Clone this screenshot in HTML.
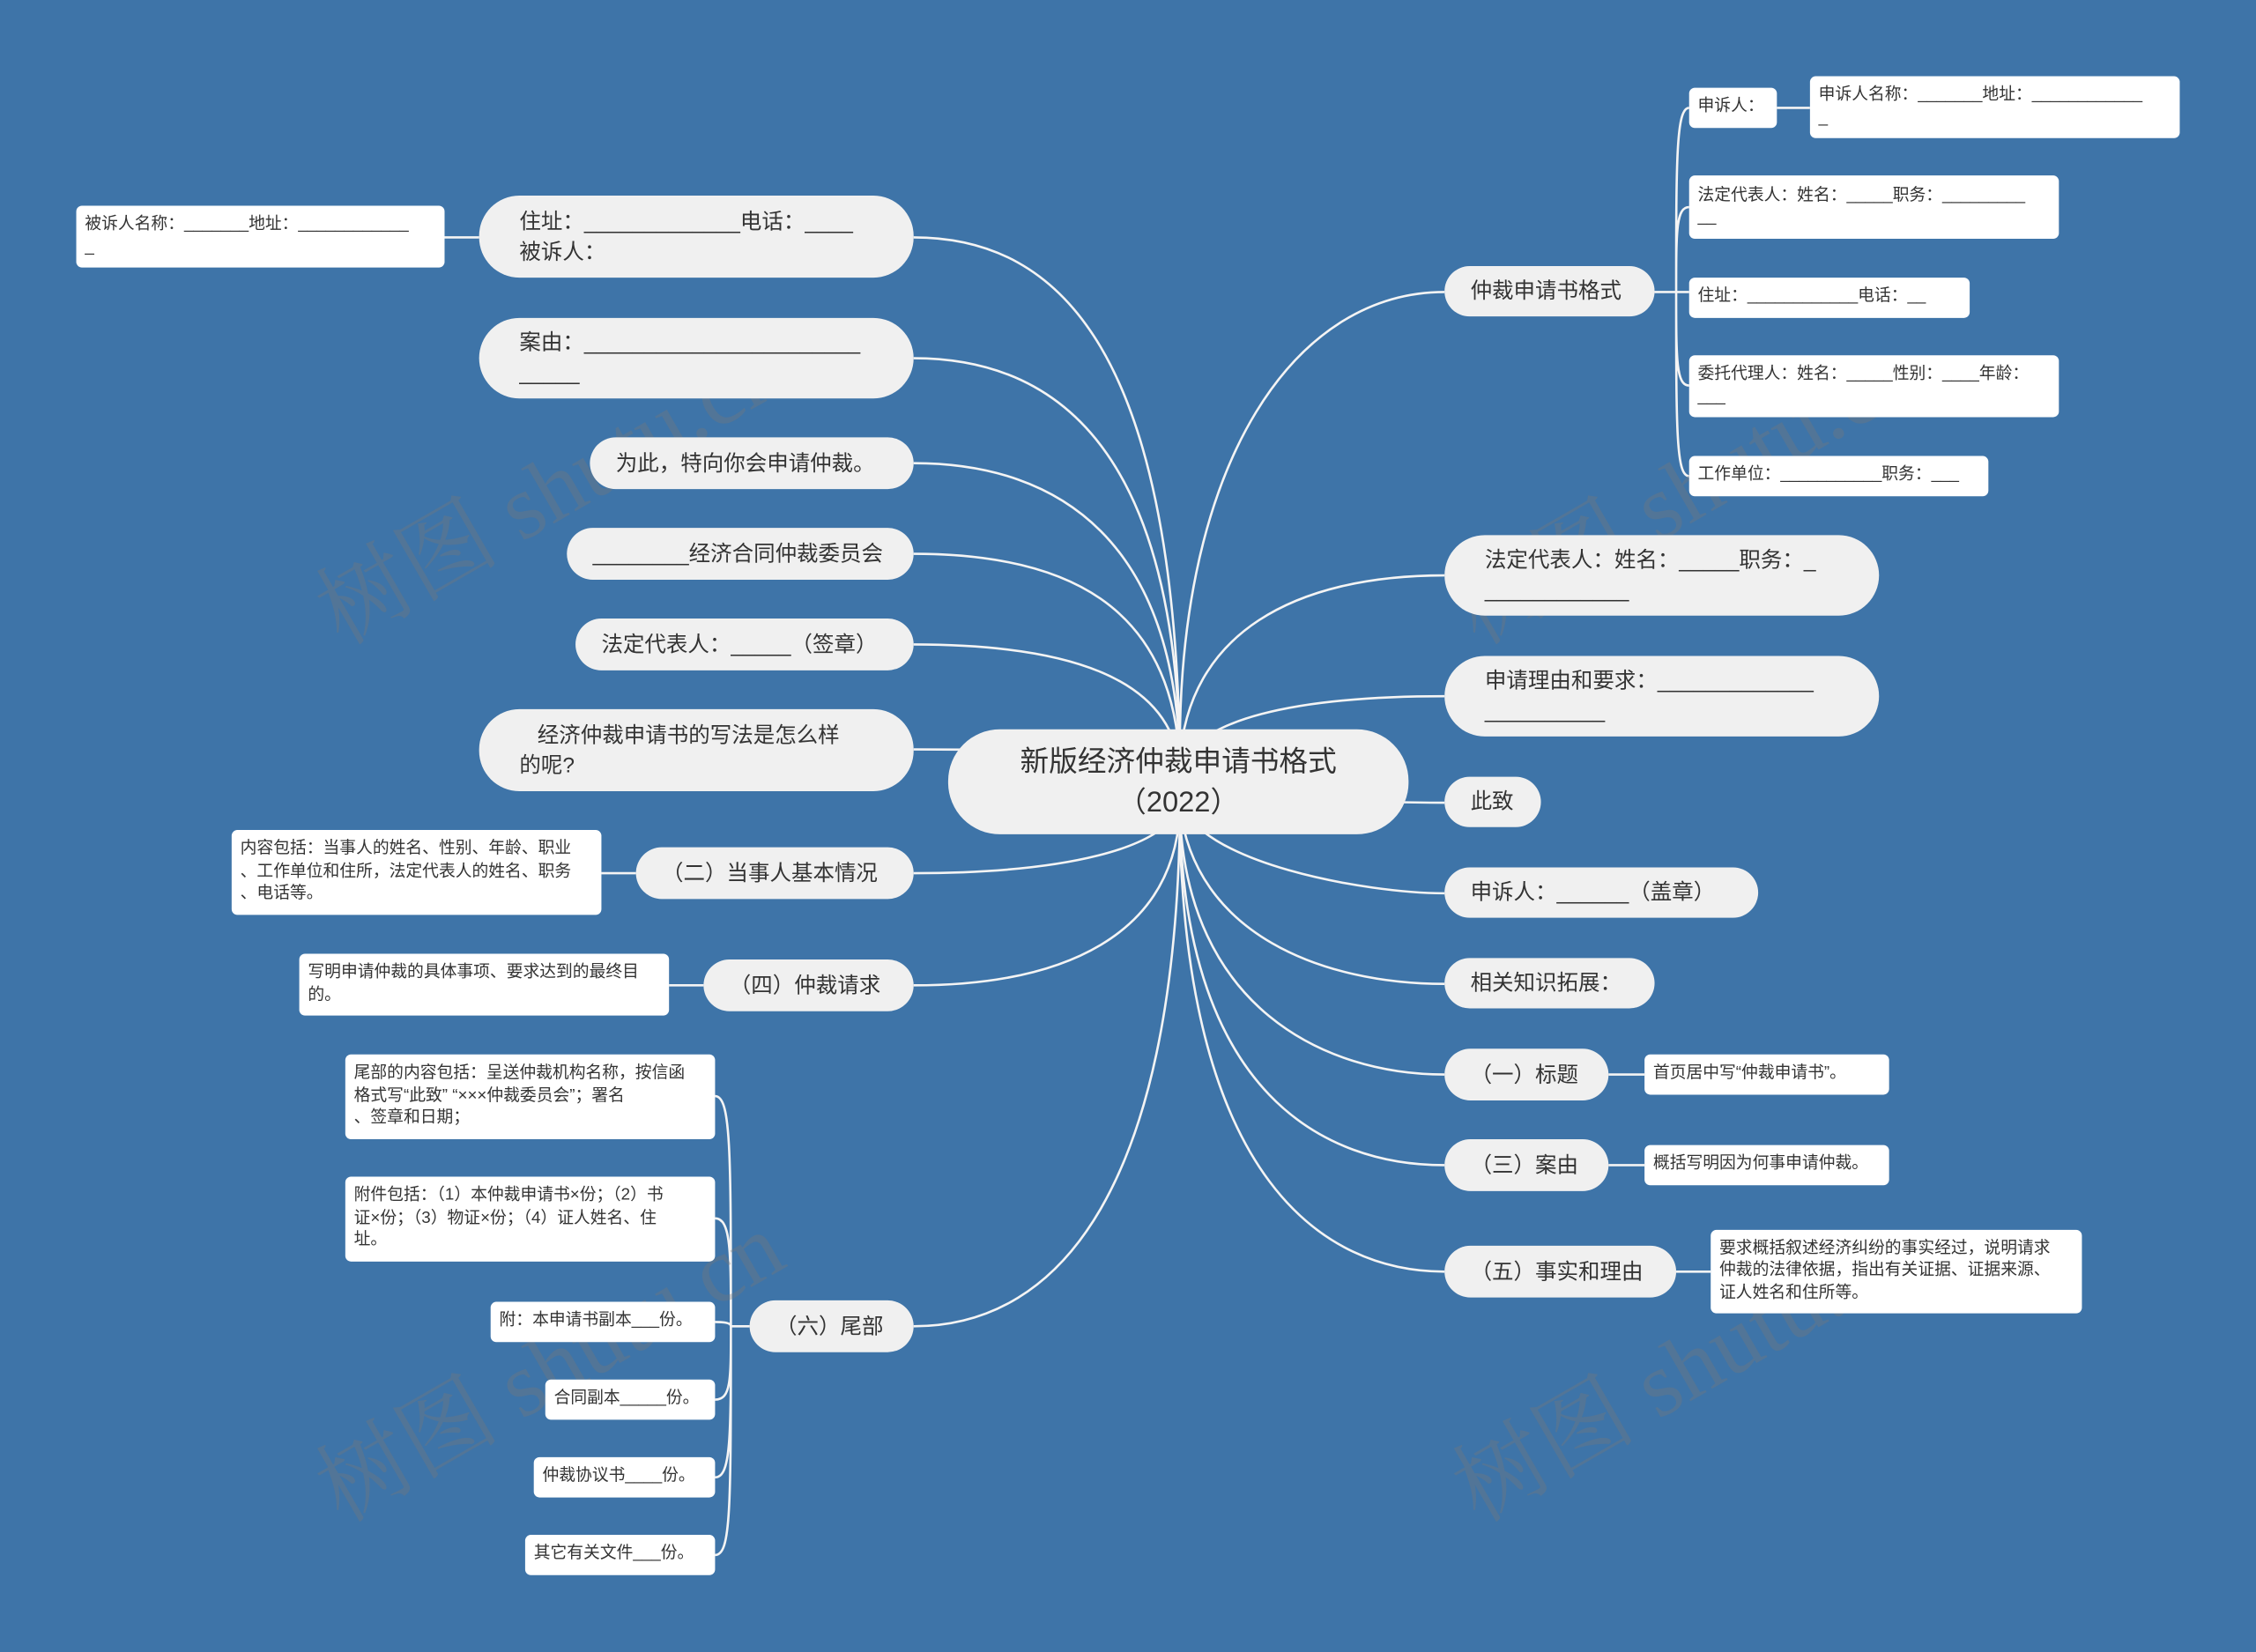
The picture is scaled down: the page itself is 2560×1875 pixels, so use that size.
<!DOCTYPE html>
<html><head><meta charset="utf-8"><style>
html,body{margin:0;padding:0;background:#3e74a8;width:2560px;height:1875px;overflow:hidden}
#s{position:absolute;left:0;top:0;width:1568px;height:1148px;transform:scale(1.63265);transform-origin:0 0;font-family:"Liberation Sans","Noto Sans CJK SC",sans-serif}
.n{position:absolute;background:#f0f0f0;border-radius:20px;color:#333;font-size:15px;display:flex;align-items:center;box-sizing:border-box;padding:0 18px;line-height:21px;white-space:nowrap}
.l{position:absolute;background:#fff;border-radius:4px;color:#333;font-size:11.5px;display:flex;align-items:center;box-sizing:border-box;padding:0 6px;line-height:15.5px;white-space:nowrap}
.c{justify-content:center;text-align:center}
.wm{position:absolute;color:rgba(120,120,120,0.35);font-family:"Liberation Serif","Noto Serif CJK SC",serif;font-size:64px;transform:rotate(-30deg);white-space:nowrap}
svg{position:absolute;left:0;top:0}
</style></head><body><div id="s">
<svg width="1568" height="1148" fill="none" stroke="#f4f4f4" stroke-width="1.6">
<g>
<path d="M820 520 C820 320 900 203 1004 203"/>
<path d="M820 530 C825 440 900 400 1004 400"/>
<path d="M820 535 C830 500 900 484 1004 484"/>
<path d="M820 545 C840 555 960 558 1004 558"/>
<path d="M820 555 C830 600 950 621 1004 621"/>
<path d="M820 560 C830 650 920 684 1004 684"/>
<path d="M820 565 C825 700 920 747 1004 747"/>
<path d="M820 570 C825 760 920 810 1004 810"/>
<path d="M820 575 C825 820 920 884 1004 884"/>
</g>
<g>
<path d="M635 165 C740 165 815 250 820 520"/>
<path d="M635 249 C740 249 815 320 820 520"/>
<path d="M635 322 C740 322 815 380 820 525"/>
<path d="M635 385 C740 385 815 420 820 530"/>
<path d="M635 448 C740 448 815 470 820 535"/>
<path d="M635 521 C740 521 810 525 820 540"/>
<path d="M635 607 C740 607 810 590 820 560"/>
<path d="M635 685 C740 685 815 650 820 565"/>
<path d="M635 922 C740 922 815 820 820 575"/>
</g>
<path d="M1150 203 H1165 M1165 203 C1165 110 1165 75 1174 75 M1165 203 C1165 160 1165 144 1174 144 M1165 203 H1174 M1165 203 C1165 250 1165 268 1174 268 M1165 203 C1165 300 1165 331 1174 331 M1235 75 H1258"/>
<path d="M1118 747 H1143 M1118 810 H1143 M1165 884 H1189 M418 607 H442 M465 685 H489 M309 165 H333"/>
<path d="M521 922 H508 M508 922 C508 800 508 762 497 762 M508 922 C508 870 508 847 497 847 M508 922 C508 919 500 919 497 919 M508 922 C508 960 508 973 497 973 M508 922 C508 1000 508 1027 497 1027 M508 922 C508 1050 508 1081 497 1081"/>
</svg>
<div class="wm" style="left:200px;top:290px">树图 shutu.cn</div>
<div class="wm" style="left:990px;top:290px">树图 shutu.cn</div>
<div class="wm" style="left:200px;top:900px">树图 shutu.cn</div>
<div class="wm" style="left:990px;top:900px">树图 shutu.cn</div>

<div class="n c" style="left:659px;top:507px;width:320px;height:73px;border-radius:36px;font-size:20px;line-height:28px">新版经济仲裁申请书格式<br>（2022）</div>

<div class="n" style="left:1004px;top:185px;width:146px;height:35px">仲裁申请书格式</div>
<div class="n" style="left:1004px;top:372px;width:302px;height:56px;border-radius:28px;padding-left:28px">法定代表人：姓名：_____职务：_<br>____________</div>
<div class="n" style="left:1004px;top:456px;width:302px;height:56px;border-radius:28px;padding-left:28px">申请理由和要求：_____________<br>__________</div>
<div class="n" style="left:1004px;top:540px;width:67px;height:35px">此致</div>
<div class="n" style="left:1004px;top:603px;width:218px;height:35px">申诉人：______（盖章）</div>
<div class="n" style="left:1004px;top:666px;width:146px;height:35px">相关知识拓展：</div>
<div class="n" style="left:1004px;top:729px;width:114px;height:36px">（一）标题</div>
<div class="n" style="left:1004px;top:792px;width:114px;height:36px">（三）案由</div>
<div class="n" style="left:1004px;top:866px;width:161px;height:36px">（五）事实和理由</div>

<div class="l" style="left:1143px;top:733px;width:170px;height:28px">首页居中写“仲裁申请书”。</div>
<div class="l" style="left:1143px;top:796px;width:170px;height:28px">概括写明因为何事申请仲裁。</div>
<div class="l" style="left:1189px;top:855px;width:258px;height:58px">要求概括叙述经济纠纷的事实经过，说明请求<br>仲裁的法律依据，指出有关证据、证据来源、<br>证人姓名和住所等。</div>

<div class="l" style="left:1174px;top:61px;width:61px;height:28px">申诉人：</div>
<div class="l" style="left:1258px;top:53px;width:257px;height:43px">申诉人名称：_______地址：____________<br>_</div>
<div class="l" style="left:1174px;top:122px;width:257px;height:44px">法定代表人：姓名：_____职务：_________<br>__</div>
<div class="l" style="left:1174px;top:193px;width:195px;height:28px">住址：____________电话：__</div>
<div class="l" style="left:1174px;top:247px;width:257px;height:43px">委托代理人：姓名：_____性别：____年龄：<br>___</div>
<div class="l" style="left:1174px;top:317px;width:208px;height:28px">工作单位：___________职务：___</div>

<div class="n" style="left:333px;top:136px;width:302px;height:57px;border-radius:28px;padding-left:28px">住址：_____________电话：____<br>被诉人：</div>
<div class="l" style="left:53px;top:143px;width:256px;height:43px">被诉人名称：_______地址：____________<br>_</div>
<div class="n" style="left:333px;top:221px;width:302px;height:56px;border-radius:28px;padding-left:28px">案由：_______________________<br>_____</div>
<div class="n" style="left:410px;top:304px;width:225px;height:36px">为此，特向你会申请仲裁。</div>
<div class="n" style="left:394px;top:367px;width:241px;height:36px">________经济合同仲裁委员会</div>
<div class="n" style="left:400px;top:430px;width:235px;height:36px">法定代表人：_____（签章）</div>
<div class="n" style="left:333px;top:493px;width:302px;height:57px;border-radius:28px;padding-left:28px">&nbsp;&nbsp;&nbsp;经济仲裁申请书的写法是怎么样<br>的呢?</div>
<div class="n" style="left:442px;top:589px;width:193px;height:36px">（二）当事人基本情况</div>
<div class="l" style="left:161px;top:577px;width:257px;height:59px">内容包括：当事人的姓名、性别、年龄、职业<br>、工作单位和住所，法定代表人的姓名、职务<br>、电话等。</div>
<div class="n" style="left:489px;top:667px;width:146px;height:36px">（四）仲裁请求</div>
<div class="l" style="left:208px;top:663px;width:257px;height:43px">写明申请仲裁的具体事项、要求达到的最终目<br>的。</div>
<div class="n" style="left:521px;top:904px;width:114px;height:36px">（六）尾部</div>

<div class="l" style="left:240px;top:733px;width:257px;height:59px">尾部的内容包括：呈送仲裁机构名称，按信函<br>格式写“此致” “×××仲裁委员会”；署名<br>、签章和日期；</div>
<div class="l" style="left:240px;top:818px;width:257px;height:59px">附件包括：（1）本仲裁申请书×份；（2）书<br>证×份；（3）物证×份；（4）证人姓名、住<br>址。</div>
<div class="l" style="left:341px;top:905px;width:156px;height:28px">附：本申请书副本___份。</div>
<div class="l" style="left:379px;top:959px;width:118px;height:28px">合同副本_____份。</div>
<div class="l" style="left:371px;top:1013px;width:126px;height:28px">仲裁协议书____份。</div>
<div class="l" style="left:365px;top:1067px;width:132px;height:28px">其它有关文件___份。</div>
</div></body></html>
